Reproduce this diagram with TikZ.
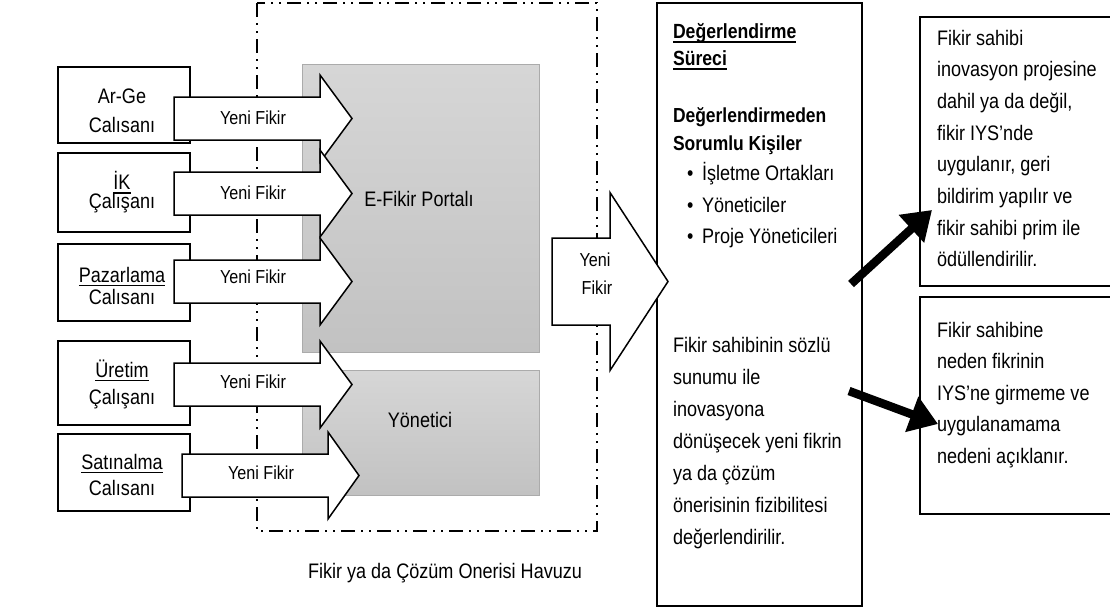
\documentclass[tikz,border=0pt]{standalone}
\usepackage{fontspec}
\setmainfont[FakeStretch=0.86]{Liberation Sans}
\usetikzlibrary{arrows.meta}
% underline with a heavier rule than \underline
\newcommand\undl[1]{\setbox0=\hbox{#1}\rlap{\vrule height -2.6pt depth 4.3pt width \wd0}\box0}
% white block arrow: tail x, head base x, tip x, centre y
\newcommand\fatarrow[4]{%
  \draw[blockarrow] (#1,#4-21.5) -- (#2,#4-21.5) -- (#2,#4-43.5) -- (#3,#4)
    -- (#2,#4+43.5) -- (#2,#4+21.5) -- (#1,#4+21.5) -- cycle;}
\begin{document}
\begin{tikzpicture}[x=1pt,y=-1pt,
  every node/.style={inner sep=0pt,outer sep=0pt},
  txt/.style={font=\fontsize{21}{24}\selectfont,anchor=base west},
  ctxt/.style={font=\fontsize{21}{24}\selectfont,anchor=base},
  btxt/.style={font=\fontsize{20.3}{24}\bfseries\selectfont,anchor=base west},
  ytxt/.style={font=\fontsize{18.8}{22}\selectfont,anchor=base},
  plainbox/.style={draw=black,line width=1.5pt,fill=white},
  evalbox/.style={draw=black,line width=1.8pt,fill=white},
  graybox/.style={draw=black!33,line width=1pt,top color=black!16,bottom color=black!24},
  poolline/.style={line width=1.2pt,dash pattern=on 14pt off 6pt on 2pt off 6pt on 2pt off 6pt},
  blockarrow/.style={draw=black,line width=1.5pt,fill=white,line join=miter},
  thickarrow/.style={line width=8.5pt,-{Triangle[length=28pt,width=36pt]}},
]
\useasboundingbox (0,0) rectangle (1110,611);

% idea / solution pool
\draw[poolline] (257,3) rectangle (597,531);
\node[graybox,minimum width=237,minimum height=288] (portal) at (420.5,208) {};
\node[graybox,minimum width=237,minimum height=125] (manager) at (420.5,432.5) {};
\node[ctxt] (portaltxt) at (419,206) {E-Fikir Portalı};
\node[ctxt] (managertxt) at (420,427) {Yönetici};
\node[ctxt] (pooltxt) at (445,578) {Fikir ya da Çözüm Onerisi Havuzu};

% employee boxes
\node[plainbox,minimum width=132,minimum height=76] (e1) at (124,105) {};
\node[plainbox,minimum width=132,minimum height=79] (e2) at (124,192.5) {};
\node[plainbox,minimum width=132,minimum height=77] (e3) at (124,282.5) {};
\node[plainbox,minimum width=132,minimum height=84] (e4) at (124,383) {};
\node[plainbox,minimum width=132,minimum height=77] (e5) at (124,472.5) {};
\node[ctxt] (e1a) at (122,103) {Ar-Ge};
\node[ctxt] (e1b) at (122,132) {Calısanı};
\node[ctxt] (e2a) at (122,189.5) {\undl{İK}};
\node[ctxt] (e2b) at (122,208.5) {Çalışanı};
\node[ctxt] (e3a) at (122,282) {\undl{Pazarlama}};
\node[ctxt] (e3b) at (122,304) {Calısanı};
\node[ctxt] (e4a) at (122,377) {\undl{Üretim}};
\node[ctxt] (e4b) at (122,404) {Çalışanı};
\node[ctxt] (e5a) at (122,469) {\undl{Satınalma}};
\node[ctxt] (e5b) at (122,495) {Calısanı};

% evaluation and outcome boxes
\node[evalbox,minimum width=205,minimum height=603] (eval) at (759.5,304.5) {};
\node[plainbox,minimum width=196,minimum height=269] (accept) at (1018,151.5) {};
\node[plainbox,minimum width=196,minimum height=217] (reject) at (1018,405.5) {};

% "Yeni Fikir" arrows into the pool
\fatarrow{174}{320}{352}{118.5}
\fatarrow{174}{320}{352}{193.5}
\fatarrow{174}{320}{352}{281.5}
\fatarrow{174}{320}{352}{384.5}
\fatarrow{182}{328}{359}{475.5}
\node[ytxt] (y1) at (253,124) {Yeni Fikir};
\node[ytxt] (y2) at (253,199.5) {Yeni Fikir};
\node[ytxt] (y3) at (253,283.5) {Yeni Fikir};
\node[ytxt] (y4) at (253,388.5) {Yeni Fikir};
\node[ytxt] (y5) at (261,479.5) {Yeni Fikir};

% arrow from the pool to the evaluation
\draw[blockarrow] (552,238) -- (610,238) -- (610,192.5) -- (668,281.5)
  -- (610,370.5) -- (610,325) -- (552,325) -- cycle;
\node[ytxt] (b1) at (595,266.5) {Yeni};
\node[ytxt] (b2) at (597,294.5) {Fikir};

% evaluation text
\node[txt,font=\fontsize{20.5}{24}\bfseries\selectfont] (h1) at (673,38.5) {\undl{Değerlendirme}};
\node[txt,font=\fontsize{20.5}{24}\bfseries\selectfont] (h2) at (673,65.5) {\undl{Süreci}};
\node[btxt] (h3) at (673,122) {Değerlendirmeden};
\node[btxt] (h4) at (673,150) {Sorumlu Kişiler};
\node[txt] (l1) at (687,180) {\makebox[15pt][l]{•}İşletme Ortakları};
\node[txt] (l2) at (687,212) {\makebox[15pt][l]{•}Yöneticiler};
\node[txt] (l3) at (687,243) {\makebox[15pt][l]{•}Proje Yöneticileri};
\foreach \t [count=\i] in {Fikir sahibinin sözlü,sunumu ile,inovasyona,dönüşecek yeni fikrin,ya da çözüm,önerisinin fizibilitesi,değerlendirilir.}
  \node[txt] (d\i) at (673,{352+32*(\i-1)}) {\t};

% outcome texts
\foreach \t [count=\i] in {Fikir sahibi,inovasyon projesine,{dahil ya da değil,},fikir IYS'nde,{uygulanır, geri},bildirim yapılır ve,fikir sahibi prim ile,ödüllendirilir.}
  \node[txt] (a\i) at (937,{45+31.7*(\i-1)}) {\t};
\foreach \t [count=\i] in {Fikir sahibine,neden fikrinin,IYS'ne girmeme ve,uygulanamama,nedeni açıklanır.}
  \node[txt] (r\i) at (937,{337+31.5*(\i-1)}) {\t};

% decision arrows
\coordinate (yesfrom) at (851,284);
\coordinate (yesto) at (932,210);
\coordinate (nofrom) at (849,391);
\coordinate (noto) at (938,424);
\draw[thickarrow] (yesfrom) -- (yesto);
\draw[thickarrow] (nofrom) -- (noto);
\end{tikzpicture}
\end{document}
